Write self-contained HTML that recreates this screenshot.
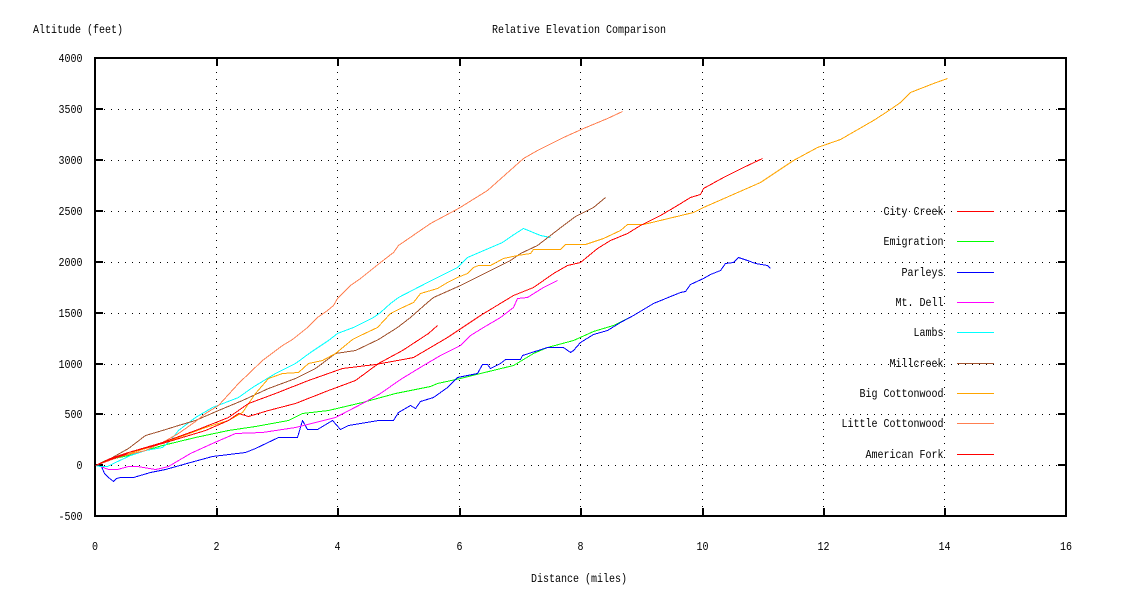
<!DOCTYPE html>
<html><head><meta charset="utf-8"><style>
html,body{margin:0;padding:0;background:#fff;}
svg{display:block;}
text{font-family:"Liberation Mono","DejaVu Sans Mono",monospace;font-size:12px;fill:#000;}
</style></head><body>
<svg width="1136" height="599" viewBox="0 0 1136 599" xmlns="http://www.w3.org/2000/svg">
<rect width="1136" height="599" fill="#fff"/>
<!-- grid -->
<g stroke="#000" stroke-width="1" stroke-dasharray="1,6" shape-rendering="crispEdges" fill="none">
<line x1="97" y1="109.5" x2="1064" y2="109.5"/>
<line x1="97" y1="160.5" x2="1064" y2="160.5"/>
<line x1="97" y1="211.5" x2="1064" y2="211.5"/>
<line x1="97" y1="262.5" x2="1064" y2="262.5"/>
<line x1="97" y1="313.5" x2="1064" y2="313.5"/>
<line x1="97" y1="364.5" x2="1064" y2="364.5"/>
<line x1="97" y1="414.5" x2="1064" y2="414.5"/>
<line x1="97" y1="465.5" x2="1064" y2="465.5"/>
<line x1="216.5" y1="514" x2="216.5" y2="60"/>
<line x1="337.5" y1="514" x2="337.5" y2="60"/>
<line x1="459.5" y1="514" x2="459.5" y2="60"/>
<line x1="580.5" y1="514" x2="580.5" y2="60"/>
<line x1="702.5" y1="514" x2="702.5" y2="60"/>
<line x1="823.5" y1="514" x2="823.5" y2="60"/>
<line x1="944.5" y1="514" x2="944.5" y2="60"/>
</g>
<!-- border & ticks -->
<g stroke="#000" stroke-width="2" fill="none" shape-rendering="crispEdges">
<rect x="95" y="58" width="971" height="458"/>
<path d="M95 109H103M95 160H103M95 211H103M95 262H103M95 313H103M95 364H103M95 414H103M95 465H103
M1066 109H1058M1066 160H1058M1066 211H1058M1066 262H1058M1066 313H1058M1066 364H1058M1066 414H1058M1066 465H1058
M217 516V508M338 516V508M460 516V508M581 516V508M703 516V508M824 516V508M945 516V508
M217 58V66M338 58V66M460 58V66M581 58V66M703 58V66M824 58V66M945 58V66"/>
</g>
<!-- labels -->
<text x="33" y="33" textLength="90" lengthAdjust="spacingAndGlyphs">Altitude (feet)</text>
<text x="579" y="33" text-anchor="middle" textLength="174" lengthAdjust="spacingAndGlyphs">Relative Elevation Comparison</text>
<text x="579" y="582" text-anchor="middle" textLength="96" lengthAdjust="spacingAndGlyphs">Distance (miles)</text>
<g text-anchor="end">
<text x="82.5" y="62" textLength="24" lengthAdjust="spacingAndGlyphs">4000</text>
<text x="82.5" y="113" textLength="24" lengthAdjust="spacingAndGlyphs">3500</text>
<text x="82.5" y="164" textLength="24" lengthAdjust="spacingAndGlyphs">3000</text>
<text x="82.5" y="215" textLength="24" lengthAdjust="spacingAndGlyphs">2500</text>
<text x="82.5" y="266" textLength="24" lengthAdjust="spacingAndGlyphs">2000</text>
<text x="82.5" y="317" textLength="24" lengthAdjust="spacingAndGlyphs">1500</text>
<text x="82.5" y="368" textLength="24" lengthAdjust="spacingAndGlyphs">1000</text>
<text x="82.5" y="418" textLength="18" lengthAdjust="spacingAndGlyphs">500</text>
<text x="82.5" y="469" textLength="6" lengthAdjust="spacingAndGlyphs">0</text>
<text x="82.5" y="520" textLength="24" lengthAdjust="spacingAndGlyphs">-500</text>
</g>
<g text-anchor="middle">
<text x="95" y="550" textLength="6" lengthAdjust="spacingAndGlyphs">0</text>
<text x="216.5" y="550" textLength="6" lengthAdjust="spacingAndGlyphs">2</text>
<text x="337.5" y="550" textLength="6" lengthAdjust="spacingAndGlyphs">4</text>
<text x="459.5" y="550" textLength="6" lengthAdjust="spacingAndGlyphs">6</text>
<text x="580.5" y="550" textLength="6" lengthAdjust="spacingAndGlyphs">8</text>
<text x="702.5" y="550" textLength="12" lengthAdjust="spacingAndGlyphs">10</text>
<text x="823.5" y="550" textLength="12" lengthAdjust="spacingAndGlyphs">12</text>
<text x="944.5" y="550" textLength="12" lengthAdjust="spacingAndGlyphs">14</text>
<text x="1066" y="550" textLength="12" lengthAdjust="spacingAndGlyphs">16</text>
</g>
<!-- legend -->
<g text-anchor="end">
<text x="943.5" y="215" textLength="60" lengthAdjust="spacingAndGlyphs">City Creek</text>
<text x="943.5" y="245" textLength="60" lengthAdjust="spacingAndGlyphs">Emigration</text>
<text x="943.5" y="276" textLength="42" lengthAdjust="spacingAndGlyphs">Parleys</text>
<text x="943.5" y="306" textLength="48" lengthAdjust="spacingAndGlyphs">Mt. Dell</text>
<text x="943.5" y="336" textLength="30" lengthAdjust="spacingAndGlyphs">Lambs</text>
<text x="943.5" y="367" textLength="54" lengthAdjust="spacingAndGlyphs">Millcreek</text>
<text x="943.5" y="397" textLength="84" lengthAdjust="spacingAndGlyphs">Big Cottonwood</text>
<text x="943.5" y="427" textLength="102" lengthAdjust="spacingAndGlyphs">Little Cottonwood</text>
<text x="943.5" y="458" textLength="78" lengthAdjust="spacingAndGlyphs">American Fork</text>
</g>
<g stroke-width="1" shape-rendering="crispEdges">
<line x1="957" y1="211.5" x2="994" y2="211.5" stroke="#ff0000"/>
<line x1="957" y1="241.5" x2="994" y2="241.5" stroke="#00ff00"/>
<line x1="957" y1="272.5" x2="994" y2="272.5" stroke="#0000ff"/>
<line x1="957" y1="302.5" x2="994" y2="302.5" stroke="#ff00ff"/>
<line x1="957" y1="332.5" x2="994" y2="332.5" stroke="#00ffff"/>
<line x1="957" y1="363.5" x2="994" y2="363.5" stroke="#a0522d"/>
<line x1="957" y1="393.5" x2="994" y2="393.5" stroke="#ffa500"/>
<line x1="957" y1="423.5" x2="994" y2="423.5" stroke="#ff7f50"/>
<line x1="957" y1="454.5" x2="994" y2="454.5" stroke="#ff0000"/>
</g>
<!-- series -->
<g fill="none" stroke-width="1" stroke-linejoin="round" shape-rendering="crispEdges" transform="translate(0.5,0.5)">
<!-- Emigration -->
<polyline stroke="#00ff00" points="95,465 105,460 128,455 162,445 195,437 228,430 255,426 288,420 302,413 328,410 362,402 395,393 430,386 437,383 460,378 480,373 513,365 533,353 547,347 573,340 593,331 613,325 633,315"/>
<!-- Parleys -->
<polyline stroke="#0000ff" points="95,465 101,466 104,473 108,477 113,481 116,478 120,477 133,477 150,472 165,469 190,462 212,456 245,452 255,448 278,437 297,437 302,420 307,429 317,429 332,420 340,429 348,425 378,420 393,420 398,412 410,405 415,408 420,401 433,397 447,387 457,377 477,373 482,364 487,364 490,368 500,363 505,359 520,359 522,355 547,347 563,347 570,352 573,350 580,342 593,334 607,330 620,322 633,315 653,303 680,292 685,291 690,284 703,278 710,274 720,270 725,263 733,262 738,257 747,260 755,263 767,265 770,268"/>
<!-- Mt. Dell -->
<polyline stroke="#ff00ff" points="95,465 100,466 108,469 117,469 128,466 137,466 155,469 160,468 168,466 190,453 212,443 235,433 262,432 295,427 335,417 362,403 380,393 400,379 423,365 440,355 460,345 470,335 483,327 500,317 513,307 517,298 527,297 543,287 557,280"/>
<!-- Lambs -->
<polyline stroke="#00ffff" points="95,465 100,466 107,466 115,462 130,455 145,450 162,447 170,440 178,430 195,417 212,407 238,397 252,387 275,373 295,363 310,352 328,340 337,333 353,327 373,317 380,312 390,303 398,297 427,282 457,267 467,257 502,242 512,235 523,228 540,235 550,237"/>
<!-- Millcreek -->
<polyline stroke="#a0522d" points="95,465 112,457 128,448 145,435 162,430 178,425 195,420 218,410 242,400 268,388 295,378 315,368 335,353 355,350 378,339 397,327 410,317 427,302 433,297 460,285 490,270 510,260 520,253 537,245 550,235 563,225 575,216 593,207 605,197"/>
<!-- Big Cottonwood -->
<polyline stroke="#ffa500" points="95,465 120,456 145,448 178,437 205,427 228,420 242,412 255,393 268,378 282,373 298,372 308,363 322,360 335,353 352,339 360,335 377,327 390,313 400,308 413,302 420,293 437,288 447,282 457,277 467,273 473,267 478,265 490,265 503,258 517,255 530,253 533,249 560,249 565,244 585,244 597,240 603,238 620,230 627,224 643,224 693,212 703,207 760,182 793,160 817,147 840,139 873,120 887,111 900,102 910,92 933,83 947,78"/>
<!-- Little Cottonwood -->
<polyline stroke="#ff7f50" points="95,465 120,456 145,450 162,442 178,433 195,421 205,413 218,405 238,383 262,360 282,345 292,339 307,327 317,317 327,310 333,305 337,298 350,285 360,278 370,270 380,262 393,252 398,245 430,223 458,208 487,190 523,158 537,150 563,137 583,128 607,118 622,111"/>
<!-- City Creek (long red) -->
<polyline stroke="#ff0000" points="95,465 110,458 128,452 145,447 162,442 195,430 228,417 248,403 275,393 308,380 342,368 375,364 408,358 413,357 430,347 447,337 480,315 513,295 533,287 553,273 567,265 580,262 597,248 610,240 627,233 640,225 660,215 677,205 690,197 700,194 703,188 723,177 743,167 762,158"/>
<!-- American Fork (short red) -->
<polyline stroke="#ff0000" points="95,465 110,459 125,454 128,452 162,443 205,430 228,420 238,413 248,416 268,410 295,403 328,390 355,380 378,363 402,350 428,333 437,325"/>
</g>
</svg>
</body></html>
